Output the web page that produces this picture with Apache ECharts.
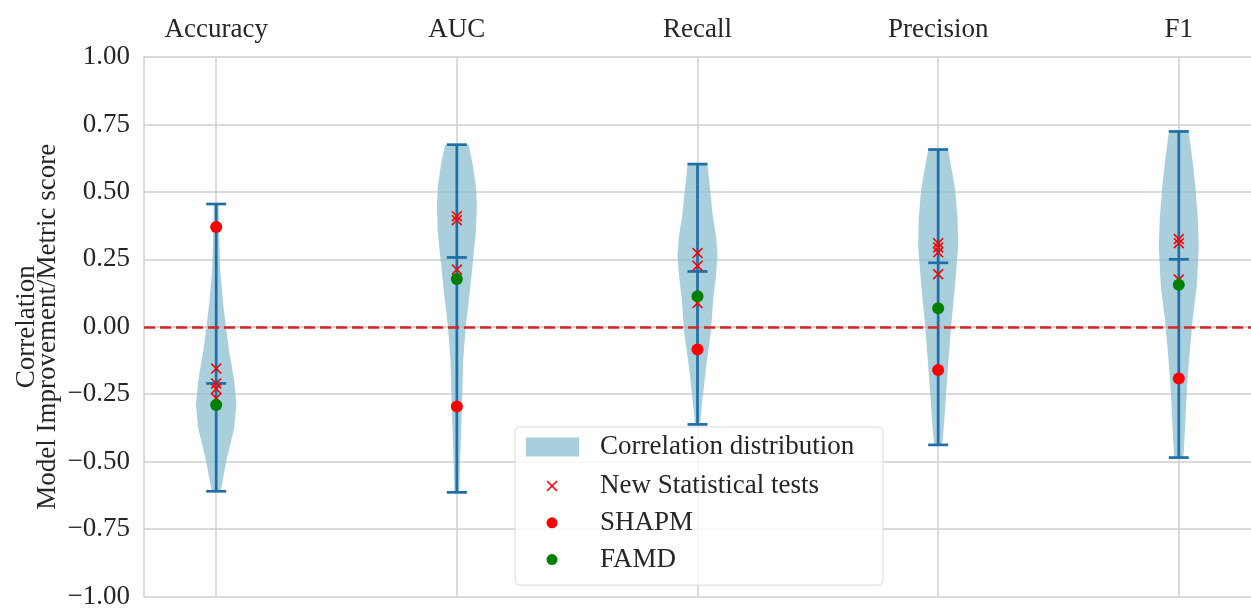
<!DOCTYPE html>
<html>
<head>
<meta charset="utf-8">
<script src="https://cdn.jsdelivr.net/npm/echarts@6/dist/echarts.min.js"></script>
<style>
  html, body { margin: 0; padding: 0; background: #ffffff; }
  #chart { width: 1251px; height: 610px; }
</style>
</head>
<body>
<div id="chart"></div>
<script>
// Metrics shown along the top axis
const categories = ['Accuracy', 'AUC', 'Recall', 'Precision', 'F1'];
const xPositions = [1, 2, 3, 4, 5];

// Correlation distribution summary per metric (whisker ends and median)
const corrMin = [-0.610, -0.614, -0.362, -0.438, -0.485];
const corrMedian = [-0.210, 0.257, 0.205, 0.237, 0.250];
const corrMax = [0.455, 0.675, 0.603, 0.657, 0.724];

// Violin outlines: [correlation, relative density] from top to bottom
const accuracyDensity = [[0.455, 0.12], [0.35, 0.14], [0.21, 0.20], [0.09, 0.34], [0.00, 0.48], [-0.09, 0.64], [-0.20, 0.89], [-0.29, 1.00], [-0.376, 0.89], [-0.50, 0.49], [-0.60, 0.25], [-0.610, 0.22]];
const aucDensity = [[0.675, 0.58], [0.60, 0.79], [0.52, 0.94], [0.45, 0.99], [0.35, 0.94], [0.26, 0.82], [0.116, 0.62], [0.00, 0.44], [-0.13, 0.31], [-0.25, 0.27], [-0.37, 0.22], [-0.50, 0.16], [-0.614, 0.12]];
const recallDensity = [[0.603, 0.49], [0.51, 0.62], [0.41, 0.76], [0.33, 0.93], [0.263, 0.99], [0.18, 0.90], [0.103, 0.78], [-0.02, 0.66], [-0.14, 0.44], [-0.266, 0.25], [-0.362, 0.12]];
const precisionDensity = [[0.657, 0.49], [0.51, 0.84], [0.40, 0.96], [0.30, 0.99], [0.14, 0.82], [0.018, 0.66], [-0.106, 0.53], [-0.23, 0.41], [-0.35, 0.30], [-0.438, 0.20]];
const f1Density = [[0.724, 0.49], [0.62, 0.67], [0.52, 0.82], [0.40, 0.94], [0.30, 0.99], [0.152, 0.89], [0.03, 0.69], [-0.093, 0.54], [-0.216, 0.41], [-0.34, 0.33], [-0.46, 0.25], [-0.485, 0.22]];
const violinDensities = [accuracyDensity, aucDensity, recallDensity, precisionDensity, f1Density];

// Per-method correlations
const newStatTests = [
  [-0.155, -0.210, -0.230, -0.265],
  [0.410, 0.395, 0.212],
  [0.273, 0.226, 0.088],
  [0.310, 0.294, 0.276, 0.195],
  [0.325, 0.310, 0.175]
];
const shapm = [0.370, -0.296, -0.084, -0.160, -0.192];
const famd = [-0.290, 0.177, 0.113, 0.069, 0.156];

// Styling
const FONT = 'Liberation Serif';
const TEXT = '#262626';
const GRID = '#cfcfcf';
const VIOLIN_FILL = 'rgba(140, 190, 208, 0.75)';
const WHISKER = '#1f6fa4';
const VIOLIN_HALF = 0.084;   // half width (x units) at peak density
const CAP_PX = 10;

const X_MARK = 'path://M5.57 6.7L1.13 11.13L0 10L4.43 5.57L0 1.13L1.13 0L5.57 4.43L10 0L11.13 1.13L6.7 5.57L11.13 10L10 11.13Z';

function renderViolin(params, api) {
  const i = params.dataIndex;
  const x = api.value(0);
  const prof = violinDensities[i];
  const right = prof.map(p => api.coord([x + p[1] * VIOLIN_HALF, p[0]]));
  const left = prof.slice().reverse().map(p => api.coord([x - p[1] * VIOLIN_HALF, p[0]]));
  return {
    type: 'polygon',
    shape: { points: right.concat(left) },
    style: { fill: VIOLIN_FILL, stroke: null }
  };
}

function renderWhisker(params, api) {
  const x = api.value(0);
  const lo = api.coord([x, api.value(1)]);
  const md = api.coord([x, api.value(2)]);
  const hi = api.coord([x, api.value(3)]);
  const style = { stroke: WHISKER, lineWidth: 2.7, fill: null };
  const seg = (x1, y1, x2, y2) => ({ type: 'line', shape: { x1, y1, x2, y2 }, style });
  return {
    type: 'group',
    children: [
      seg(hi[0], hi[1], lo[0], lo[1]),
      seg(hi[0] - CAP_PX, hi[1], hi[0] + CAP_PX, hi[1]),
      seg(md[0] - CAP_PX, md[1], md[0] + CAP_PX, md[1]),
      seg(lo[0] - CAP_PX, lo[1], lo[0] + CAP_PX, lo[1])
    ]
  };
}

const violinData = xPositions.map(x => [x]);
const whiskerData = xPositions.map((x, i) => [x, corrMin[i], corrMedian[i], corrMax[i]]);
const testData = newStatTests.flatMap((vals, i) => vals.map(v => [xPositions[i], v]));
const shapmData = shapm.map((v, i) => [xPositions[i], v]);
const famdData = famd.map((v, i) => [xPositions[i], v]);

const textStyle = { fontFamily: FONT, fontSize: 27, color: TEXT };

const chart = echarts.init(document.getElementById('chart'), null, { renderer: 'canvas' });
chart.setOption({
  animation: false,
  backgroundColor: '#ffffff',
  grid: { left: 144, top: 57, width: 1110, height: 542, containLabel: false },
  xAxis: {
    type: 'value',
    min: 0.7,
    max: 5.3,
    position: 'top',
    axisLine: { show: true, lineStyle: { color: GRID, width: 1.5 } },
    axisTick: { show: false, customValues: xPositions },
    axisLabel: {
      customValues: xPositions,
      formatter: v => categories[Math.round(v) - 1],
      margin: 14,
      ...textStyle
    },
    splitLine: { show: true, lineStyle: { color: GRID, width: 1.5 } }
  },
  yAxis: {
    type: 'value',
    min: -1,
    max: 1,
    interval: 0.25,
    axisLine: { show: true, lineStyle: { color: GRID, width: 1.5 } },
    axisTick: { show: false },
    axisLabel: {
      formatter: v => (v < 0 ? '\u2212' : '') + Math.abs(v).toFixed(2),
      margin: 14,
      ...textStyle
    },
    splitLine: { show: true, lineStyle: { color: GRID, width: 1.5 } },
    name: 'Correlation\nModel Improvement/Metric score',
    nameLocation: 'middle',
    nameRotate: 90,
    nameGap: 86,
    nameMoveOverlap: false,
    nameTextStyle: { ...textStyle, lineHeight: 21 }
  },
  legend: [
    {
      data: [{ name: 'Correlation distribution', icon: 'rect' }],
      orient: 'vertical',
      left: 526,
      top: 433.5,
      padding: 0,
      itemWidth: 53,
      itemHeight: 19,
      z: 6,
      selectedMode: false,
      textStyle: { ...textStyle, lineHeight: 27, padding: [0, 0, 0, 16] }
    },
    {
      data: ['New Statistical tests', 'SHAPM', 'FAMD'],
      orient: 'vertical',
      left: 515,
      top: 427,
      padding: [45.5, 64, 12, 31.5],
      itemGap: 9.8,
      itemWidth: 11,
      itemHeight: 11,
      symbolKeepAspect: true,
      backgroundColor: 'rgba(255,255,255,0.8)',
      borderColor: '#dadada',
      borderWidth: 1,
      borderRadius: 5,
      z: 5,
      selectedMode: false,
      textStyle: { ...textStyle, lineHeight: 27, padding: [0, 0, 0, 37.5] }
    }
  ],
  series: [
    {
      name: 'Correlation distribution',
      type: 'custom',
      renderItem: renderViolin,
      data: violinData,
      encode: { x: 0 },
      itemStyle: { color: VIOLIN_FILL },
      z: 2,
      silent: true
    },
    {
      name: 'range',
      type: 'custom',
      renderItem: renderWhisker,
      data: whiskerData,
      encode: { x: 0, y: [1, 2, 3] },
      z: 3,
      silent: true,
      markLine: {
        silent: true,
        symbol: ['none', 'none'],
        label: { show: false },
        lineStyle: { color: '#d62728', width: 2.5, type: [11, 5] },
        z: 5,
        data: [{ yAxis: 0 }]
      }
    },
    {
      name: 'New Statistical tests',
      type: 'scatter',
      symbol: X_MARK,
      symbolSize: 11,
      itemStyle: { color: '#ff0000', opacity: 1 },
      data: testData,
      z: 6
    },
    {
      name: 'SHAPM',
      type: 'scatter',
      symbol: 'circle',
      symbolSize: 12,
      itemStyle: { color: '#ff0000', opacity: 1 },
      data: shapmData,
      z: 7
    },
    {
      name: 'FAMD',
      type: 'scatter',
      symbol: 'circle',
      symbolSize: 12,
      itemStyle: { color: '#008000', opacity: 1 },
      data: famdData,
      z: 8
    }
  ]
});
</script>
</body>
</html>
